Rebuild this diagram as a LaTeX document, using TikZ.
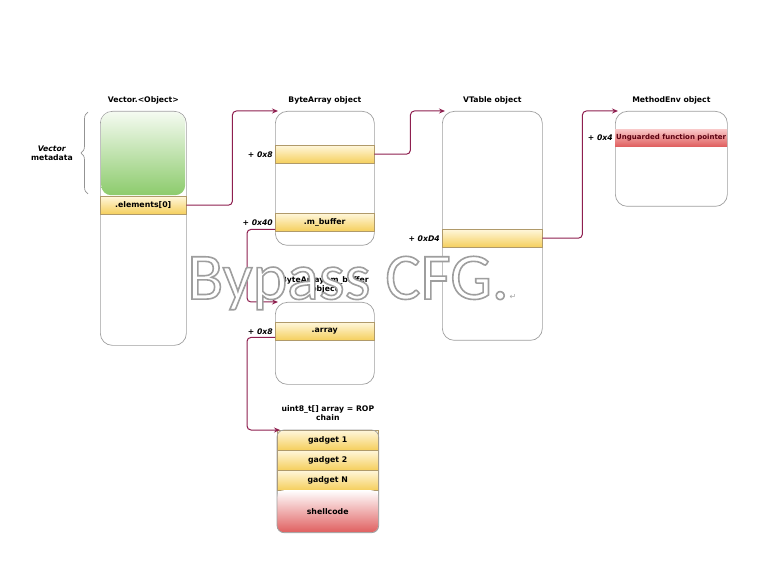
\documentclass[tikz,border=0pt]{standalone}
\usepackage{fontspec}
\setmainfont{DejaVu Sans}
\newfontfamily\wmfont{Carlito}
\usepackage{xcolor}
\usepackage{tikz}
\usetikzlibrary{positioning, decorations.pathreplacing, arrows.meta}

\definecolor{linkred}{HTML}{8E1F4F}
\definecolor{bandtop}{HTML}{FFF7DC}
\definecolor{bandbot}{HTML}{F5CF5C}
\definecolor{bandedge}{HTML}{B09A6A}
\definecolor{greentop}{HTML}{F4FAF0}
\definecolor{greenbot}{HTML}{8CCB6C}
\definecolor{redtop}{HTML}{F9C8C8}
\definecolor{redbot}{HTML}{E06060}
\definecolor{ptrtext}{HTML}{5A0010}

\newcommand{\outlined}[1]{\special{pdf:literal direct 2 Tr 1.6 w 0.62 G}#1\special{pdf:literal direct 0 Tr 0 G}}

\begin{document}
\begin{tikzpicture}[x=1pt,y=-1pt,
                    obj node/.style={draw=gray!75,line width=0.7pt,fill=white,rounded corners=12pt,
                                     anchor=north west,inner sep=0pt},
                    field node/.style={draw=bandedge,line width=0.4pt,top color=bandtop,bottom color=bandbot,
                                       font=\bfseries\fontsize{7.8}{9}\selectfont,anchor=north west,
                                       inner sep=0pt,minimum height=18pt},
                    title node/.style={font=\bfseries\fontsize{7.7}{9}\selectfont,align=center,inner sep=1pt},
                    off node/.style={font=\bfseries\itshape\fontsize{7.7}{9}\selectfont,inner sep=1pt},
                    link/.style={draw=linkred,line width=1pt,rounded corners=4pt,
                                 -{Stealth[length=6pt,width=5pt]}}]

  \useasboundingbox (0,0) rectangle (761,572);

  % objects
  \node[obj node,minimum width=86pt,minimum height=234pt] (vec) at (100,111) {};
  \node[obj node,minimum width=99pt,minimum height=134pt] (ba) at (275,111) {};
  \node[obj node,minimum width=100pt,minimum height=229pt] (vt) at (442,111) {};
  \node[obj node,minimum width=112pt,minimum height=95pt] (me) at (615,111) {};
  \node[obj node,minimum width=99pt,minimum height=82pt] (mb) at (275,302) {};
  \node[obj node,minimum width=101pt,minimum height=102pt,rounded corners=7pt] (rop) at (277,430) {};

  % vector metadata
  \node[anchor=north west,inner sep=0pt,rounded corners=10pt,top color=greentop,bottom color=greenbot,
        minimum width=84pt,minimum height=83pt] (meta) at (101,112) {};

  % fields
  \node[field node,minimum width=86pt] (e0) at (100,196) {.elements[0]};
  \node[field node,minimum width=99pt] (ba8) at (275,145) {};
  \node[field node,minimum width=99pt] (buf) at (275,213) {.m\_buffer};
  \node[field node,minimum width=100pt] (vtd4) at (442,229) {};
  \node[field node,minimum width=99pt] (arr) at (275,322) {.array};
  \node[field node,minimum width=112pt,minimum height=17pt,draw=none,top color=redtop,bottom color=redbot,
        text=ptrtext,font=\bfseries\fontsize{7}{8}\selectfont] (fp) at (615,129) {Unguarded function pointer};
  \node[field node,minimum width=101pt,minimum height=20pt] (g1) at (277,430) {gadget 1};
  \node[field node,minimum width=101pt,minimum height=20pt] (g2) at (277,450) {gadget 2};
  \node[field node,minimum width=101pt,minimum height=20pt] (gN) at (277,470) {gadget N};
  \node[field node,minimum width=101pt,minimum height=42pt,draw=none,rounded corners=7pt,
        top color=white,bottom color=redbot] (shell) at (277,490) {shellcode};
  \draw[gray!75,line width=0.7pt,rounded corners=7pt] (rop.north west) rectangle (rop.south east);

  % offsets
  \node[off node,left=1pt of ba8] {+ 0x8};
  \node[off node,left=1pt of buf] {+ 0x40};
  \node[off node,left=1pt of vtd4] {+ 0xD4};
  \node[off node,left=1pt of fp] {+ 0x4};
  \node[off node,left=1pt of arr] {+ 0x8};

  % titles
  \node[title node,above=6pt of vec.north] (tvec) {Vector.<Object>};
  \node[title node,above=6pt of ba.north] (tba) {ByteArray object};
  \node[title node,above=6pt of vt.north] (tvt) {VTable object};
  \node[title node,above=6pt of me.north] (tme) {MethodEnv object};
  \node[title node,above=8pt of mb.north] (tmb) {ByteArray::m\_buffer\\object};
  \node[title node,above=8pt of rop.north] (trop) {uint8\_t[] array = ROP\\chain};

  % metadata brace
  \coordinate (mtop) at (88,112);
  \coordinate (mbot) at (88,194);
  \draw[gray!85,line width=0.7pt,decorate,decoration={brace,amplitude=7pt}] (mbot) -- (mtop);
  \node[title node,anchor=east] (tmeta) at (74,153) {\textit{Vector}\\metadata};

  % pointers
  \draw[link] (e0.east) -- ++(46,0) |- ([xshift=3pt]ba.north west);
  \draw[link] (ba8.east) -- ++(36,0) |- ([xshift=3pt]vt.north west);
  \draw[link] (vtd4.east) -- ++(40,0) |- ([xshift=3pt]me.north west);
  \draw[link] ([yshift=2pt]buf.south west) -- ++(-28,0) |- ([xshift=3pt]mb.north west);
  \draw[link] ([yshift=3pt]arr.south west) -- ++(-28,0) |- ([xshift=3pt]rop.north west);

  % watermark
  \node[font=\wmfont\fontsize{66}{66}\selectfont,text=white] (wm) at (348,283) {\outlined{Bypass CFG.}};
  \node[font=\fontsize{8}{8}\selectfont,text=gray!70] (ret) at (513,297) {↵};

\end{tikzpicture}
\end{document}
